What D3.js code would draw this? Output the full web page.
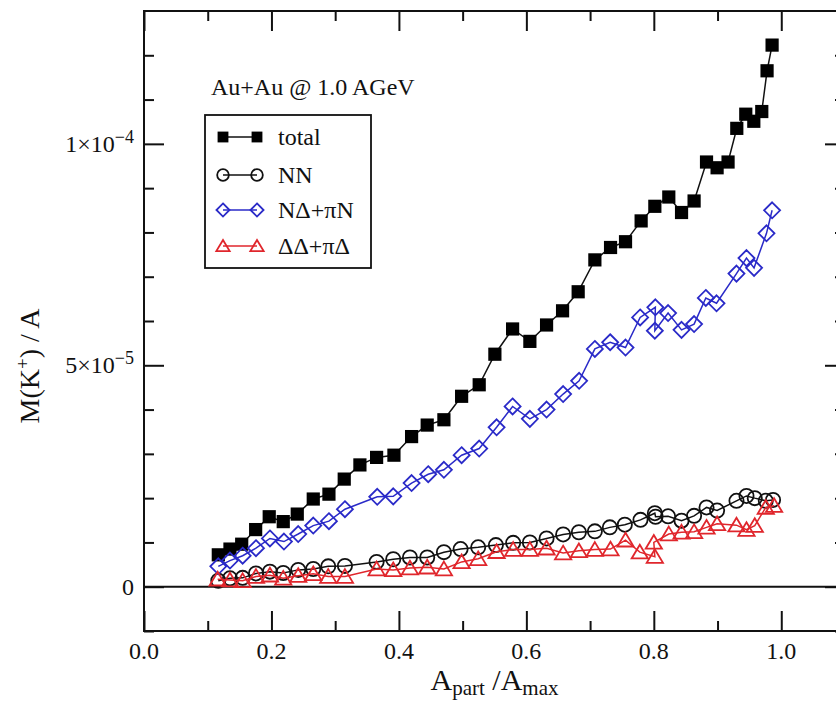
<!DOCTYPE html>
<html>
<head>
<meta charset="utf-8">
<script src="https://cdn.jsdelivr.net/npm/d3@7"></script>
<style>
  html, body { margin: 0; padding: 0; background: #fff; }
  svg { display: block; }
  text { font-family: "Liberation Serif", "DejaVu Serif", serif; fill: #111; }
</style>
</head>
<body>
<svg id="chart" width="836" height="701"></svg>
<script>
// K+ multiplicity per participant vs. centrality, Au+Au @ 1.0 AGeV

const totalX = [0.1166, 0.1349, 0.1533, 0.1752, 0.1965, 0.2185, 0.2405, 0.2656, 0.2902, 0.3142,
  0.3388, 0.3650, 0.3922, 0.4199, 0.4444, 0.4706, 0.4984, 0.5260, 0.5506, 0.5784,
  0.6055, 0.6317, 0.6568, 0.6813, 0.7075, 0.7321, 0.7556, 0.7801, 0.8016, 0.8235,
  0.8435, 0.8632, 0.8827, 0.8993, 0.9165, 0.9302, 0.9443, 0.9569, 0.9694, 0.9777, 0.9856];
const totalY = [7.2, 8.5, 9.6, 12.9, 15.8, 14.7, 16.4, 19.8, 20.9, 24.3,
  27.5, 29.2, 29.7, 33.9, 36.5, 37.7, 43.0, 45.6, 52.5, 58.2,
  55.4, 59.1, 62.3, 66.6, 73.8, 76.6, 77.9, 82.6, 85.9, 88.0,
  84.5, 87.1, 95.9, 94.6, 95.9, 103.5, 106.7, 105.1, 107.3, 116.5, 122.3];

const nnX = [0.1166, 0.1349, 0.1548, 0.1757, 0.1976, 0.2185, 0.2420, 0.2656, 0.2891, 0.3153,
  0.3650, 0.3911, 0.4173, 0.4444, 0.4706, 0.4968, 0.5244, 0.5522, 0.5793, 0.6055,
  0.6317, 0.6577, 0.6824, 0.7075, 0.7310, 0.7545, 0.7791, 0.8016, 0.8027, 0.8224,
  0.8435, 0.8632, 0.8827, 0.8993, 0.9297, 0.9454, 0.9584, 0.9757, 0.9871];
const nnY = [1.35, 1.9, 2.0, 3.0, 3.4, 3.1, 3.8, 4.0, 4.6, 4.7,
  5.6, 6.2, 6.6, 6.6, 7.8, 8.5, 8.9, 9.4, 9.9, 10.0,
  10.9, 11.8, 12.3, 12.5, 13.4, 14.0, 15.1, 16.6, 15.8, 15.9,
  14.9, 16.0, 17.9, 17.2, 19.4, 20.5, 20.0, 19.4, 19.6];

const ndX = [0.1166, 0.1349, 0.1548, 0.1757, 0.1976, 0.2196, 0.2420, 0.2656, 0.2902, 0.3153,
  0.3660, 0.3911, 0.4199, 0.4460, 0.4706, 0.4984, 0.5260, 0.5533, 0.5784, 0.6055,
  0.6317, 0.6577, 0.6828, 0.7075, 0.7315, 0.7556, 0.7785, 0.8024, 0.8016, 0.8224,
  0.8435, 0.8632, 0.8816, 0.8984, 0.9297, 0.9454, 0.9573, 0.9768, 0.9856];
const ndY = [4.6, 5.9, 7.0, 8.7, 10.9, 10.2, 11.9, 13.8, 14.8, 17.5,
  20.3, 20.4, 23.4, 25.4, 26.4, 29.7, 31.2, 36.0, 40.7, 37.9,
  40.0, 43.5, 46.5, 53.7, 55.2, 54.0, 60.8, 63.1, 57.8, 61.8,
  58.0, 59.3, 65.2, 64.0, 70.7, 74.2, 72.0, 79.8, 85.0];

const ddX = [0.1156, 0.1349, 0.1548, 0.1757, 0.1976, 0.2185, 0.2420, 0.2656, 0.2891, 0.3153,
  0.3650, 0.3911, 0.4173, 0.4444, 0.4706, 0.4984, 0.5244, 0.5533, 0.5793, 0.6055,
  0.6317, 0.6577, 0.6824, 0.7075, 0.7320, 0.7556, 0.7780, 0.8016, 0.8000, 0.8235,
  0.8435, 0.8632, 0.8827, 0.8993, 0.9297, 0.9454, 0.9584, 0.9757, 0.9887];
const ddY = [1.7, 1.5, 1.35, 2.3, 2.6, 1.9, 2.5, 2.9, 2.3, 2.3,
  4.0, 3.8, 4.2, 4.4, 4.0, 5.6, 6.3, 7.9, 8.4, 8.4,
  8.7, 7.6, 8.1, 8.4, 8.5, 10.5, 7.8, 6.8, 10.0, 11.9,
  12.3, 12.4, 13.4, 14.2, 13.9, 12.9, 13.8, 17.9, 18.3];

// y values above are in units of 1e-6
const yUnit = 1e-6;

const seriesNames = ["total", "NN", "N\u0394+\u03C0N", "\u0394\u0394+\u03C0\u0394"];
const xMajorTicks = [0, 0.2, 0.4, 0.6, 0.8, 1.0];
const xMinorTicks = [0.1, 0.3, 0.5, 0.7, 0.9];
const yMajorTicks = [0, 5e-5, 1e-4];
const yMinorTicks = [-1e-5, 1e-5, 2e-5, 3e-5, 4e-5, 6e-5, 7e-5, 8e-5, 9e-5, 1.1e-4, 1.2e-4];
const yTickMantissa = ["0", "5", "1"];
const yTickExponent = [null, "\u22125", "\u22124"];

const svg = d3.select("#chart");
const plotL = 144, plotR = 845, plotT = 11, plotB = 631;

const x = d3.scaleLinear().domain([0, 1.1]).range([plotL, plotR]);
const y = d3.scaleLinear().domain([-1e-5, 1.3e-4]).range([plotB, plotT]);

const blue = "#2a2ac8", red = "#e0262c";

// frame ticks (pointing inward)
function tickAxis(gen, values, size, tx, ty) {
  const g = svg.append("g").attr("transform", `translate(${tx},${ty})`)
    .call(gen.tickValues(values).tickSize(size).tickSizeOuter(0).tickFormat(""));
  g.select(".domain").remove();
  g.selectAll("line").attr("stroke", "#111").attr("stroke-width", 2);
  return g;
}
tickAxis(d3.axisBottom(x), xMajorTicks, -20, 0, plotB);
tickAxis(d3.axisBottom(x), xMinorTicks, -10, 0, plotB);
tickAxis(d3.axisTop(x), xMajorTicks, -20, 0, plotT);
tickAxis(d3.axisTop(x), xMinorTicks, -10, 0, plotT);
tickAxis(d3.axisLeft(y), yMajorTicks, -20, plotL, 0);
tickAxis(d3.axisLeft(y), yMinorTicks, -10, plotL, 0);
tickAxis(d3.axisRight(y), yMajorTicks, -20, plotR, 0);
tickAxis(d3.axisRight(y), yMinorTicks, -10, plotR, 0);

// frame
svg.append("rect").attr("x", plotL).attr("y", plotT)
  .attr("width", plotR - plotL).attr("height", plotB - plotT)
  .attr("fill", "none").attr("stroke", "#111").attr("stroke-width", 2);

// zero line
svg.append("line").attr("x1", plotL).attr("x2", plotR)
  .attr("y1", y(0)).attr("y2", y(0))
  .attr("stroke", "#111").attr("stroke-width", 2);

// x tick labels
svg.append("g").selectAll("text").data(xMajorTicks).join("text")
  .attr("x", d => x(d)).attr("y", 659)
  .attr("text-anchor", "middle").attr("font-size", 24)
  .text(d => d3.format(".1f")(d));

// y tick labels with powers of ten
const yl = svg.append("g").selectAll("text").data(yMajorTicks).join("text")
  .attr("x", 134).attr("y", d => y(d) + 8)
  .attr("text-anchor", "end").attr("font-size", 24);
yl.each(function(d, i) {
  const t = d3.select(this);
  if (yTickExponent[i] === null) { t.text(yTickMantissa[i]); return; }
  t.append("tspan").text(yTickMantissa[i] + "\u00D710");
  t.append("tspan").attr("font-size", 18).attr("dy", -9).text(yTickExponent[i]);
});

// axis titles
const xt = svg.append("text").attr("x", (plotL + plotR) / 2).attr("y", 690)
  .attr("text-anchor", "middle").attr("font-size", 30);
xt.append("tspan").text("A");
xt.append("tspan").attr("font-size", 21).attr("dy", 5).text("part");
xt.append("tspan").attr("dy", -5).text(" /A");
xt.append("tspan").attr("font-size", 21).attr("dy", 5).text("max");

const yt = svg.append("text").attr("transform", "translate(39,366) rotate(-90)")
  .attr("text-anchor", "middle").attr("font-size", 28);
yt.append("tspan").text("M(K");
yt.append("tspan").attr("font-size", 19).attr("dy", -10).text("+");
yt.append("tspan").attr("dy", 10).text(") / A");

// series
const diamondPath = (s) => `M0,${-s}L${s},0L0,${s}L${-s},0Z`;
const trianglePath = (s) => `M0,${-s}L${s * 1.1},${s * 0.85}L${-s * 1.1},${s * 0.85}Z`;

const series = [
  { xs: totalX, ys: totalY, color: "#111", marker: "square" },
  { xs: nnX, ys: nnY, color: "#111", marker: "circle" },
  { xs: ndX, ys: ndY, color: blue, marker: "diamond" },
  { xs: ddX, ys: ddY, color: red, marker: "triangle" }
];

function drawMarker(g, type, color, cx, cy, scale) {
  const k = scale || 1;
  if (type === "square") {
    g.append("rect").attr("x", cx - 6.6 * k).attr("y", cy - 6.6 * k)
      .attr("width", 13.2 * k).attr("height", 13.2 * k).attr("fill", "#000");
  } else if (type === "circle") {
    g.append("circle").attr("cx", cx).attr("cy", cy).attr("r", 7.1 * k)
      .attr("fill", "none").attr("stroke", color).attr("stroke-width", 1.8);
  } else if (type === "diamond") {
    g.append("path").attr("d", diamondPath(8 * k)).attr("transform", `translate(${cx},${cy})`)
      .attr("fill", "none").attr("stroke", color).attr("stroke-width", 1.8);
  } else {
    g.append("path").attr("d", trianglePath(7.4 * k)).attr("transform", `translate(${cx},${cy})`)
      .attr("fill", "none").attr("stroke", color).attr("stroke-width", 1.8);
  }
}

const line = d3.line().x(d => x(d[0])).y(d => y(d[1] * yUnit));
series.forEach(s => {
  const pts = s.xs.map((v, i) => [v, s.ys[i]]);
  const g = svg.append("g");
  g.append("path").datum(pts).attr("d", line)
    .attr("fill", "none").attr("stroke", s.color).attr("stroke-width", 1.5);
  pts.forEach(p => drawMarker(g, s.marker, s.color, x(p[0]), y(p[1] * yUnit)));
});

// annotation
svg.append("text").attr("x", 211).attr("y", 95).attr("font-size", 24)
  .text("Au+Au @ 1.0 AGeV");

// legend
const lg = svg.append("g");
lg.append("rect").attr("x", 205).attr("y", 115).attr("width", 166).attr("height", 153)
  .attr("fill", "#fff").attr("stroke", "#111").attr("stroke-width", 1.8);
const legendRows = [137, 175, 210, 246];
series.forEach((s, i) => {
  const cy = legendRows[i];
  lg.append("line").attr("x1", 223).attr("x2", 257).attr("y1", cy).attr("y2", cy)
    .attr("stroke", s.color).attr("stroke-width", 1.5);
  drawMarker(lg, s.marker, s.color, 223, cy, 0.82);
  drawMarker(lg, s.marker, s.color, 257, cy, 0.82);
  lg.append("text").attr("x", 278).attr("y", cy + 8).attr("font-size", 24).text(seriesNames[i]);
});
</script>
</body>
</html>
